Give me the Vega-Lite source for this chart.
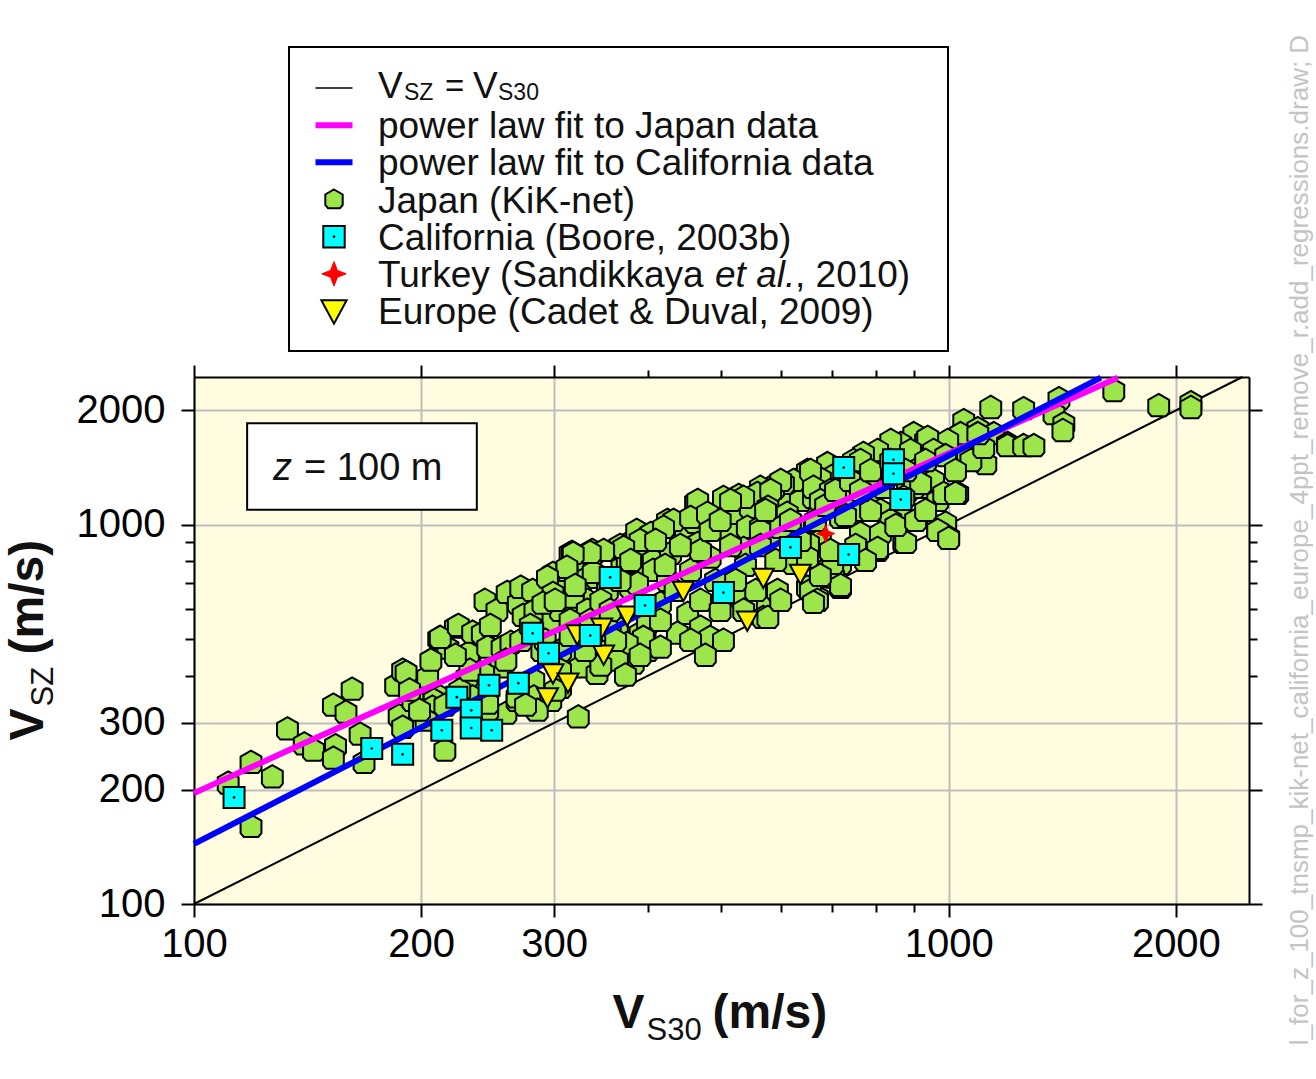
{
  "$schema": "https://vega.github.io/schema/vega-lite/v6.json",
  "width": 1055,
  "height": 527,
  "autosize": {"type": "none"},
  "padding": {"left": 194, "top": 377, "right": 67, "bottom": 175},
  "background": "white",
  "config": {
    "view": {"fill": "#FFFCE0", "stroke": null},
    "font": "Liberation Sans",
    "text": {"font": "Liberation Sans"}
  },
  "datasets": {
    "japan": [
      {"vs30":111,"vsz":208},{"vs30":119,"vsz":236},{"vs30":127,"vsz":216},{"vs30":119,"vsz":160},{"vs30":133,"vsz":289},
      {"vs30":140,"vsz":264},{"vs30":144,"vsz":254},{"vs30":153,"vsz":334},{"vs30":159,"vsz":320},{"vs30":162,"vsz":368},
      {"vs30":154,"vsz":261},{"vs30":153,"vsz":242},{"vs30":166,"vsz":280},{"vs30":168,"vsz":236},{"vs30":185,"vsz":377},
      {"vs30":189,"vsz":413},{"vs30":187,"vsz":313},{"vs30":189,"vsz":292},{"vs30":199,"vsz":384},{"vs30":204,"vsz":396},
      {"vs30":202,"vsz":338},{"vs30":211,"vsz":501},{"vs30":217,"vsz":472},{"vs30":222,"vsz":536},{"vs30":212,"vsz":351},
      {"vs30":215,"vsz":254},{"vs30":208,"vsz":344},{"vs30":232,"vsz":447},{"vs30":242,"vsz":486},{"vs30":255,"vsz":472},
      {"vs30":259,"vsz":318},{"vs30":240,"vsz":311},{"vs30":245,"vsz":324},{"vs30":268,"vsz":344},{"vs30":191,"vsz":408},
      {"vs30":195,"vsz":344},{"vs30":207,"vsz":330},{"vs30":212,"vsz":504},{"vs30":224,"vsz":542},{"vs30":231,"vsz":458},
      {"vs30":234,"vsz":520},{"vs30":241,"vsz":517},{"vs30":243,"vsz":631},{"vs30":245,"vsz":475},{"vs30":252,"vsz":594},
      {"vs30":256,"vsz":475},{"vs30":260,"vsz":662},{"vs30":269,"vsz":620},{"vs30":271,"vsz":683},{"vs30":273,"vsz":576},
      {"vs30":281,"vsz":670},{"vs30":283,"vsz":594},{"vs30":294,"vsz":620},{"vs30":299,"vsz":559},{"vs30":289,"vsz":466},
      {"vs30":263,"vsz":489},{"vs30":255,"vsz":421},{"vs30":242,"vsz":406},{"vs30":230,"vsz":396},{"vs30":234,"vsz":351},
      {"vs30":245,"vsz":338},{"vs30":268,"vsz":351},{"vs30":282,"vsz":389},{"vs30":282,"vsz":351},{"vs30":299,"vsz":743},
      {"vs30":309,"vsz":704},{"vs30":315,"vsz":839},{"vs30":318,"vsz":771},{"vs30":327,"vsz":712},{"vs30":332,"vsz":631},
      {"vs30":338,"vsz":839},{"vs30":342,"vsz":725},{"vs30":353,"vsz":670},{"vs30":364,"vsz":870},{"vs30":369,"vsz":771},
      {"vs30":379,"vsz":683},{"vs30":382,"vsz":908},{"vs30":390,"vsz":947},{"vs30":396,"vsz":854},{"vs30":400,"vsz":757},
      {"vs30":386,"vsz":771},{"vs30":406,"vsz":804},{"vs30":306,"vsz":594},{"vs30":318,"vsz":631},{"vs30":325,"vsz":559},
      {"vs30":312,"vsz":447},{"vs30":325,"vsz":421},{"vs30":342,"vsz":405},{"vs30":353,"vsz":466},{"vs30":364,"vsz":536},
      {"vs30":375,"vsz":466},{"vs30":390,"vsz":517},{"vs30":396,"vsz":504},{"vs30":382,"vsz":431},{"vs30":399,"vsz":466},
      {"vs30":406,"vsz":594},{"vs30":323,"vsz":311},{"vs30":306,"vsz":372},{"vs30":297,"vsz":344},{"vs30":285,"vsz":324},
      {"vs30":317,"vsz":844},{"vs30":337,"vsz":854},{"vs30":312,"vsz":757},{"vs30":338,"vsz":748},{"vs30":367,"vsz":880},
      {"vs30":386,"vsz":964},{"vs30":375,"vsz":794},{"vs30":406,"vsz":757},{"vs30":387,"vsz":699},{"vs30":424,"vsz":1025},
      {"vs30":428,"vsz":839},{"vs30":448,"vsz":947},{"vs30":462,"vsz":1143},{"vs30":462,"vsz":1013},{"vs30":465,"vsz":891},
      {"vs30":483,"vsz":820},{"vs30":480,"vsz":1057},{"vs30":503,"vsz":1178},{"vs30":509,"vsz":964},{"vs30":519,"vsz":1070},
      {"vs30":527,"vsz":1192},{"vs30":546,"vsz":1110},{"vs30":541,"vsz":983},{"vs30":563,"vsz":1253},{"vs30":581,"vsz":1110},
      {"vs30":593,"vsz":1283},{"vs30":611,"vsz":1179},{"vs30":627,"vsz":1306},{"vs30":636,"vsz":1157},{"vs30":650,"vsz":1362},
      {"vs30":662,"vsz":1179},{"vs30":563,"vsz":983},{"vs30":586,"vsz":947},{"vs30":535,"vsz":865},{"vs30":424,"vsz":712},
      {"vs30":415,"vsz":620},{"vs30":451,"vsz":583},{"vs30":469,"vsz":536},{"vs30":437,"vsz":517},{"vs30":399,"vsz":549},
      {"vs30":394,"vsz":504},{"vs30":415,"vsz":475},{"vs30":375,"vsz":486},{"vs30":356,"vsz":526},{"vs30":335,"vsz":486},
      {"vs30":364,"vsz":439},{"vs30":483,"vsz":504},{"vs30":503,"vsz":495},{"vs30":530,"vsz":643},{"vs30":535,"vsz":594},
      {"vs30":575,"vsz":620},{"vs30":568,"vsz":569},{"vs30":593,"vsz":670},{"vs30":623,"vsz":790},{"vs30":656,"vsz":839},
      {"vs30":670,"vsz":643},{"vs30":650,"vsz":683},{"vs30":318,"vsz":643},{"vs30":332,"vsz":594},{"vs30":315,"vsz":559},
      {"vs30":899,"vsz":1736},{"vs30":932,"vsz":1664},{"vs30":961,"vsz":1634},{"vs30":864,"vsz":1634},{"vs30":838,"vsz":1664},
      {"vs30":805,"vsz":1566},{"vs30":771,"vsz":1538},{"vs30":748,"vsz":1474},{"vs30":691,"vsz":1447},{"vs30":704,"vsz":1346},
      {"vs30":650,"vsz":1387},{"vs30":676,"vsz":1321},{"vs30":623,"vsz":1306},{"vs30":604,"vsz":1283},{"vs30":586,"vsz":1244},
      {"vs30":558,"vsz":1207},{"vs30":535,"vsz":1179},{"vs30":514,"vsz":1157},{"vs30":465,"vsz":1157},{"vs30":432,"vsz":1025},
      {"vs30":455,"vsz":1044},{"vs30":479,"vsz":1070},{"vs30":403,"vsz":947},{"vs30":419,"vsz":983},{"vs30":390,"vsz":908},
      {"vs30":371,"vsz":870},{"vs30":349,"vsz":854},{"vs30":335,"vsz":844},{"vs30":318,"vsz":839},{"vs30":312,"vsz":771},
      {"vs30":294,"vsz":726},{"vs30":299,"vsz":658},{"vs30":290,"vsz":620},{"vs30":726,"vsz":1207},{"vs30":764,"vsz":1157},
      {"vs30":795,"vsz":1110},{"vs30":812,"vsz":1089},{"vs30":882,"vsz":1229},{"vs30":910,"vsz":1306},{"vs30":938,"vsz":1253},
      {"vs30":967,"vsz":1157},{"vs30":864,"vsz":1070},{"vs30":838,"vsz":1025},{"vs30":764,"vsz":947},{"vs30":812,"vsz":947},
      {"vs30":805,"vsz":854},{"vs30":872,"vsz":897},{"vs30":719,"vsz":790},{"vs30":704,"vsz":726},{"vs30":650,"vsz":871},
      {"vs30":676,"vsz":908},{"vs30":656,"vsz":670},{"vs30":670,"vsz":631},{"vs30":719,"vsz":683},{"vs30":967,"vsz":983},
      {"vs30":623,"vsz":1007},{"vs30":563,"vsz":964},{"vs30":1137,"vsz":2033},{"vs30":1047,"vsz":1878},{"vs30":1093,"vsz":1789},
      {"vs30":1148,"vsz":1736},{"vs30":1197,"vsz":1634},{"vs30":1103,"vsz":1566},{"vs30":1059,"vsz":1502},{"vs30":1120,"vsz":1447},
      {"vs30":1037,"vsz":1736},{"vs30":997,"vsz":1664},{"vs30":938,"vsz":1696},{"vs30":955,"vsz":1566},{"vs30":890,"vsz":1566},
      {"vs30":918,"vsz":1414},{"vs30":955,"vsz":1306},{"vs30":899,"vsz":1253},{"vs30":985,"vsz":1207},{"vs30":1028,"vsz":1207},
      {"vs30":820,"vsz":1253},{"vs30":788,"vsz":1330},{"vs30":764,"vsz":1474},{"vs30":656,"vsz":1387},{"vs30":599,"vsz":1306},
      {"vs30":581,"vsz":1229},{"vs30":576,"vsz":1110},{"vs30":662,"vsz":1253},{"vs30":697,"vsz":1229},{"vs30":726,"vsz":1157},
      {"vs30":676,"vsz":1157},{"vs30":611,"vsz":1070},{"vs30":599,"vsz":983},{"vs30":764,"vsz":1089},{"vs30":788,"vsz":1089},
      {"vs30":719,"vsz":1044},{"vs30":805,"vsz":865},{"vs30":991,"vsz":1007},{"vs30":1000,"vsz":925},{"vs30":967,"vsz":964},
      {"vs30":652,"vsz":891},{"vs30":650,"vsz":820},{"vs30":702,"vsz":790},{"vs30":719,"vsz":691},{"vs30":662,"vsz":623},
      {"vs30":576,"vsz":569},{"vs30":1257,"vsz":2020},{"vs30":1400,"vsz":2145},{"vs30":1379,"vsz":1959},{"vs30":1421,"vsz":1844},
      {"vs30":1417,"vsz":1768},{"vs30":1655,"vsz":2252},{"vs30":1898,"vsz":2057},{"vs30":2094,"vsz":2095},{"vs30":2094,"vsz":2033},
      {"vs30":1197,"vsz":1614},{"vs30":1257,"vsz":1614},{"vs30":1297,"vsz":1614},{"vs30":1070,"vsz":1474},{"vs30":1113,"vsz":1596},
      {"vs30":1093,"vsz":1736},{"vs30":1021,"vsz":1207},{"vs30":918,"vsz":1283},{"vs30":872,"vsz":1179},{"vs30":1000,"vsz":919},
      {"vs30":877,"vsz":897},
      {"vs30":247,"vsz":542},{"vs30":259,"vsz":439},{"vs30":271,"vsz":495},{"vs30":279,"vsz":542},{"vs30":292,"vsz":495},
      {"vs30":301,"vsz":631},{"vs30":275,"vsz":334},{"vs30":306,"vsz":466},{"vs30":306,"vsz":413},{"vs30":301,"vsz":366},
      {"vs30":320,"vsz":691},{"vs30":335,"vsz":559},{"vs30":346,"vsz":631},{"vs30":356,"vsz":594},{"vs30":367,"vsz":712},
      {"vs30":379,"vsz":804},{"vs30":362,"vsz":495},{"vs30":346,"vsz":426},{"vs30":373,"vsz":401},{"vs30":390,"vsz":452},
      {"vs30":330,"vsz":466},{"vs30":315,"vsz":510},{"vs30":409,"vsz":908},{"vs30":421,"vsz":780},{"vs30":434,"vsz":670},
      {"vs30":455,"vsz":757},{"vs30":469,"vsz":854},{"vs30":483,"vsz":964},{"vs30":441,"vsz":880},{"vs30":491,"vsz":712},
      {"vs30":469,"vsz":631},{"vs30":455,"vsz":495},{"vs30":498,"vsz":594},{"vs30":415,"vsz":559},{"vs30":476,"vsz":452},
      {"vs30":514,"vsz":880},{"vs30":538,"vsz":780},{"vs30":563,"vsz":880},{"vs30":590,"vsz":804},{"vs30":617,"vsz":1025},
      {"vs30":636,"vsz":908},{"vs30":555,"vsz":670},{"vs30":599,"vsz":631},{"vs30":522,"vsz":712},{"vs30":572,"vsz":1089},
      {"vs30":498,"vsz":1025},{"vs30":666,"vsz":1025},{"vs30":687,"vsz":1122},{"vs30":708,"vsz":1229},{"vs30":741,"vsz":1306},
      {"vs30":764,"vsz":1229},{"vs30":788,"vsz":1387},{"vs30":730,"vsz":1056},{"vs30":753,"vsz":880},{"vs30":697,"vsz":854},
      {"vs30":776,"vsz":804},{"vs30":676,"vsz":734},{"vs30":838,"vsz":1474},{"vs30":877,"vsz":1387},{"vs30":932,"vsz":1474},
      {"vs30":991,"vsz":1519},{"vs30":1021,"vsz":1387},{"vs30":851,"vsz":994},{"vs30":904,"vsz":1025},{"vs30":932,"vsz":1089},
      {"vs30":193,"vsz":366},{"vs30":203,"vsz":305},{"vs30":215,"vsz":334},{"vs30":225,"vsz":366},{"vs30":232,"vsz":413},
      {"vs30":222,"vsz":452},{"vs30":206,"vsz":439},{"vs30":199,"vsz":324}
    ],
    "california": [
      {"vs30":113,"vsz":191},{"vs30":172,"vsz":257},{"vs30":189,"vsz":248},{"vs30":213,"vsz":287},{"vs30":223,"vsz":351},
      {"vs30":233,"vsz":324},{"vs30":233,"vsz":291},{"vs30":248,"vsz":287},{"vs30":246,"vsz":377},{"vs30":269,"vsz":382},
      {"vs30":281,"vsz":517},{"vs30":295,"vsz":458},{"vs30":356,"vsz":726},{"vs30":396,"vsz":612},{"vs30":503,"vsz":662},
      {"vs30":617,"vsz":871},{"vs30":726,"vsz":1414},{"vs30":845,"vsz":1483},{"vs30":845,"vsz":1362},{"vs30":864,"vsz":1164},
      {"vs30":737,"vsz":834},{"vs30":335,"vsz":510}
    ],
    "europe": [
      {"vs30":322,"vsz":514},{"vs30":347,"vsz":536},{"vs30":349,"vsz":455},{"vs30":375,"vsz":576},{"vs30":299,"vsz":406},
      {"vs30":313,"vsz":384},{"vs30":294,"vsz":351},{"vs30":445,"vsz":670},{"vs30":568,"vsz":725},{"vs30":636,"vsz":743},
      {"vs30":541,"vsz":559}
    ],
    "turkey": [{"vs30":687,"vsz":947}],
    "japanFit": [
      {"vs30":100,"vsz":196},{"vs30":138,"vsz":262},{"vs30":225,"vsz":405},{"vs30":390,"vsz":660},
      {"vs30":676,"vsz":1086},{"vs30":1172,"vsz":1776},{"vs30":1675,"vsz":2440}
    ],
    "calFit": [
      {"vs30":100,"vsz":144},{"vs30":188,"vsz":274},{"vs30":415,"vsz":618},{"vs30":864,"vsz":1311},{"vs30":1591,"vsz":2440}
    ],
    "oneToOne": [{"vs30":100,"vsz":100},{"vs30":2450,"vsz":2450}],
    "frame": [{"vs30":100,"vsz":100}],
    "annot": [
      {"id":"z1","text":"z"},{"id":"z2","text":"= 100 m"},
      {"id":"xt1","text":"V"},{"id":"xt2","text":"S30"},{"id":"xt3","text":"(m/s)"},
      {"id":"yt1","text":"V"},{"id":"yt2","text":"SZ"},{"id":"yt3","text":"(m/s)"},
      {"id":"wm","text":"l_for_z_100_tnsmp_kik-net_california_europe_4ppt_remove_r.add_regressions.draw; D"}
    ],
    "legend": [
      {"key":"k1"},
      {"key":"k2","label":"power law fit to Japan data"},
      {"key":"k3","label":"power law fit to California data"},
      {"key":"k4","label":"Japan (KiK-net)"},
      {"key":"k5","label":"California (Boore, 2003b)"},
      {"key":"k6"},
      {"key":"k7","label":"Europe (Cadet & Duval, 2009)"}
    ],
    "legendPieces": [
      {"key":"k1","id":"p1","text":"V"},{"key":"k1","id":"p2","text":"SZ"},{"key":"k1","id":"p3","text":"="},
      {"key":"k1","id":"p4","text":"V"},{"key":"k1","id":"p5","text":"S30"},
      {"key":"k6","id":"t1","text":"Turkey (Sandikkaya"},{"key":"k6","id":"t2","text":"et al."},{"key":"k6","id":"t3","text":", 2010)"}
    ]
  },
  "layer": [
    {
      "layer": [
        {
          "data": {"name": "oneToOne"},
          "mark": {"type": "line", "stroke": "black", "strokeWidth": 2},
          "encoding": {
            "x": {"field": "vs30", "type": "quantitative",
              "scale": {"type": "log", "domain": [100, 2500], "nice": false},
              "axis": {
                "orient": "bottom", "title": null,
                "values": [100,200,300,400,500,600,700,800,900,1000,2000],
                "labelExpr": "(datum.value==100||datum.value==200||datum.value==300||datum.value==1000||datum.value==2000) ? ''+datum.value : ''",
                "grid": true, "gridColor": "#BEBEBE", "gridWidth": 2,
                "gridOpacity": {"condition": {"test": "datum.value>=400 && datum.value<=900", "value": 0}, "value": 1},
                "tickSize": {"condition": {"test": "datum.value>=400 && datum.value<=900", "value": 8}, "value": 13},
                "tickWidth": 2, "tickColor": "black", "domainColor": "black", "domainWidth": 2,
                "labelFontSize": 40, "labelColor": "black", "labelPadding": 7,
                "labelFlush": false, "labelOverlap": false, "labelBound": false
              }},
            "y": {"field": "vsz", "type": "quantitative",
              "scale": {"type": "log", "domain": [100, 2450], "nice": false},
              "axis": {
                "orient": "left", "title": null,
                "values": [100,200,300,400,500,600,700,800,900,1000,2000],
                "labelExpr": "(datum.value==100||datum.value==200||datum.value==300||datum.value==1000||datum.value==2000) ? ''+datum.value : ''",
                "grid": true, "gridColor": "#BEBEBE", "gridWidth": 2,
                "gridOpacity": {"condition": {"test": "datum.value>=400 && datum.value<=900", "value": 0}, "value": 1},
                "tickSize": {"condition": {"test": "datum.value>=400 && datum.value<=900", "value": 9}, "value": 13},
                "tickWidth": 2, "tickColor": "black", "domainColor": "black", "domainWidth": 2,
                "labelFontSize": 40, "labelColor": "black", "labelPadding": 16,
                "labelFlush": false, "labelOverlap": false, "labelBound": false
              }}
          }
        },
        {
          "data": {"name": "japan"},
          "mark": {"type": "point", "shape": "M0,-1L0.87,-0.5L0.87,0.55L0.6,0.87L-0.6,0.87L-0.87,0.55L-0.87,-0.5Z",
            "size": 576, "filled": true, "fill": "#9CE64B", "stroke": "black", "strokeWidth": 2, "opacity": 1},
          "encoding": {"x": {"field": "vs30", "type": "quantitative"}, "y": {"field": "vsz", "type": "quantitative"}}
        },
        {
          "data": {"name": "japanFit"},
          "mark": {"type": "line", "stroke": "#FF00FF", "strokeWidth": 6},
          "encoding": {"x": {"field": "vs30", "type": "quantitative"}, "y": {"field": "vsz", "type": "quantitative"}}
        },
        {
          "data": {"name": "calFit"},
          "mark": {"type": "line", "stroke": "#0000FF", "strokeWidth": 6},
          "encoding": {"x": {"field": "vs30", "type": "quantitative"}, "y": {"field": "vsz", "type": "quantitative"}}
        },
        {
          "data": {"name": "europe"},
          "mark": {"type": "point", "shape": "M-1,-0.85L1,-0.85L0,1Z", "size": 441,
            "filled": true, "fill": "#FFEE00", "stroke": "black", "strokeWidth": 2, "opacity": 1},
          "encoding": {"x": {"field": "vs30", "type": "quantitative"}, "y": {"field": "vsz", "type": "quantitative"}}
        },
        {
          "data": {"name": "california"},
          "mark": {"type": "point", "shape": "square", "size": 441,
            "filled": true, "fill": "#00FFFF", "stroke": "black", "strokeWidth": 2, "opacity": 1},
          "encoding": {"x": {"field": "vs30", "type": "quantitative"}, "y": {"field": "vsz", "type": "quantitative"}}
        },
        {
          "data": {"name": "california"},
          "mark": {"type": "point", "shape": "circle", "size": 7, "filled": true, "fill": "black", "opacity": 1},
          "encoding": {"x": {"field": "vs30", "type": "quantitative"}, "y": {"field": "vsz", "type": "quantitative"}}
        },
        {
          "data": {"name": "turkey"},
          "mark": {"type": "point", "shape": "M0,-1L0.28,-0.28L1,0L0.28,0.28L0,1L-0.28,0.28L-1,0L-0.28,-0.28Z", "size": 324,
            "filled": true, "fill": "#FF0000", "stroke": "#FF0000", "strokeWidth": 1, "opacity": 1},
          "encoding": {"x": {"field": "vs30", "type": "quantitative"}, "y": {"field": "vsz", "type": "quantitative"}}
        },
        {
          "data": {"name": "annot"},
          "transform": [{"filter": "datum.id=='z1'"}],
          "mark": {"type": "rect", "fill": "white", "stroke": "black", "strokeWidth": 2},
          "encoding": {"x": {"datum": 117.6}, "x2": {"datum": 237}, "y": {"datum": 1850}, "y2": {"datum": 1095}}
        },
        {
          "data": {"name": "annot"},
          "transform": [{"filter": "datum.id=='z1'"}],
          "mark": {"type": "text", "align": "left", "baseline": "alphabetic", "fontSize": 38, "fontStyle": "italic", "fill": "#111"},
          "encoding": {"x": {"datum": 127.3}, "y": {"datum": 1311}, "text": {"field": "text"}}
        },
        {
          "data": {"name": "annot"},
          "transform": [{"filter": "datum.id=='z2'"}],
          "mark": {"type": "text", "align": "left", "baseline": "alphabetic", "fontSize": 38, "dx": 31, "fill": "#111"},
          "encoding": {"x": {"datum": 127.3}, "y": {"datum": 1311}, "text": {"field": "text"}}
        },
        {
          "data": {"name": "annot"},
          "transform": [{"filter": "datum.id=='xt1'"}],
          "mark": {"type": "text", "align": "left", "baseline": "alphabetic", "fontSize": 48, "fontWeight": "bold", "dx": -109, "dy": 124, "fill": "#111"},
          "encoding": {"x": {"datum": 500}, "y": {"datum": 100}, "text": {"field": "text"}}
        },
        {
          "data": {"name": "annot"},
          "transform": [{"filter": "datum.id=='xt2'"}],
          "mark": {"type": "text", "align": "left", "baseline": "alphabetic", "fontSize": 31, "dx": -75, "dy": 136, "fill": "#111"},
          "encoding": {"x": {"datum": 500}, "y": {"datum": 100}, "text": {"field": "text"}}
        },
        {
          "data": {"name": "annot"},
          "transform": [{"filter": "datum.id=='xt3'"}],
          "mark": {"type": "text", "align": "left", "baseline": "alphabetic", "fontSize": 48, "fontWeight": "bold", "dx": -9, "dy": 124, "fill": "#111"},
          "encoding": {"x": {"datum": 500}, "y": {"datum": 100}, "text": {"field": "text"}}
        },
        {
          "data": {"name": "annot"},
          "transform": [{"filter": "datum.id=='yt1'"}],
          "mark": {"type": "text", "align": "left", "baseline": "alphabetic", "angle": 270, "fontSize": 48, "fontWeight": "bold", "dx": -100, "dy": -151, "fill": "#111"},
          "encoding": {"x": {"datum": 100}, "y": {"datum": 495}, "text": {"field": "text"}}
        },
        {
          "data": {"name": "annot"},
          "transform": [{"filter": "datum.id=='yt2'"}],
          "mark": {"type": "text", "align": "left", "baseline": "alphabetic", "angle": 270, "fontSize": 31, "dx": -66, "dy": -141, "fill": "#111"},
          "encoding": {"x": {"datum": 100}, "y": {"datum": 495}, "text": {"field": "text"}}
        },
        {
          "data": {"name": "annot"},
          "transform": [{"filter": "datum.id=='yt3'"}],
          "mark": {"type": "text", "align": "left", "baseline": "alphabetic", "angle": 270, "fontSize": 48, "fontWeight": "bold", "dx": -14, "dy": -151, "fill": "#111"},
          "encoding": {"x": {"datum": 100}, "y": {"datum": 495}, "text": {"field": "text"}}
        },
        {
          "data": {"name": "annot"},
          "transform": [{"filter": "datum.id=='wm'"}],
          "mark": {"type": "text", "align": "center", "baseline": "middle", "angle": 270, "fontSize": 26, "dy": 51, "fill": "#C4C4C4"},
          "encoding": {"x": {"datum": 2500}, "y": {"datum": 911}, "text": {"field": "text"}}
        }
      ]
    },
    {
      "data": {"name": "frame"},
      "mark": {"type": "point", "opacity": 0},
      "encoding": {
        "x": {"field": "vs30", "type": "quantitative",
          "scale": {"type": "log", "domain": [100, 2500], "nice": false},
          "axis": {"orient": "top", "title": null, "labels": false, "grid": false,
            "values": [100,200,300,400,500,600,700,800,900,1000,2000],
            "tickSize": {"condition": {"test": "datum.value>=400 && datum.value<=900", "value": 7}, "value": 12},
            "tickWidth": 2, "tickColor": "black", "domainColor": "black", "domainWidth": 2}},
        "y": {"field": "vsz", "type": "quantitative",
          "scale": {"type": "log", "domain": [100, 2450], "nice": false},
          "axis": {"orient": "right", "title": null, "labels": false, "grid": false,
            "values": [100,200,300,400,500,600,700,800,900,1000,2000],
            "tickSize": {"condition": {"test": "datum.value>=400 && datum.value<=900", "value": 8}, "value": 13},
            "tickWidth": 2, "tickColor": "black", "domainColor": "black", "domainWidth": 2}}
      }
    },
    {
      "data": {"name": "legend"},
      "encoding": {
        "y": {"field": "key", "type": "ordinal", "scale": {"type": "point", "range": [-289, -66], "padding": 0}, "axis": null},
        "x": {"datum": 45, "type": "quantitative", "scale": {"domain": [0, 659], "range": [95, 754]}, "axis": null}
      },
      "layer": [
        {
          "transform": [{"filter": "datum.key=='k1'"}],
          "mark": {"type": "rect", "fill": "white", "stroke": "black", "strokeWidth": 2, "yOffset": -41, "y2Offset": 40},
          "encoding": {"x": {"datum": 0}, "x2": {"datum": 659}, "y2": {"datum": "k7"}}
        },
        {
          "transform": [{"filter": "datum.key=='k1'"}],
          "mark": {"type": "point", "shape": "M-1,0L1,0", "size": 1369, "filled": false, "stroke": "black", "strokeWidth": 1.5, "opacity": 1}
        },
        {
          "transform": [{"filter": "datum.key=='k2'"}],
          "mark": {"type": "point", "shape": "M-1,0L1,0", "size": 1369, "filled": false, "stroke": "#FF00FF", "strokeWidth": 6, "opacity": 1}
        },
        {
          "transform": [{"filter": "datum.key=='k3'"}],
          "mark": {"type": "point", "shape": "M-1,0L1,0", "size": 1369, "filled": false, "stroke": "#0000FF", "strokeWidth": 6, "opacity": 1}
        },
        {
          "transform": [{"filter": "datum.key=='k4'"}],
          "mark": {"type": "point", "shape": "M0,-1L0.87,-0.5L0.87,0.55L0.6,0.87L-0.6,0.87L-0.87,0.55L-0.87,-0.5Z",
            "size": 400, "filled": true, "fill": "#9CE64B", "stroke": "black", "strokeWidth": 2, "opacity": 1}
        },
        {
          "transform": [{"filter": "datum.key=='k5'"}],
          "mark": {"type": "point", "shape": "square", "size": 460, "filled": true, "fill": "#00FFFF", "stroke": "black", "strokeWidth": 2, "opacity": 1}
        },
        {
          "transform": [{"filter": "datum.key=='k5'"}],
          "mark": {"type": "point", "shape": "circle", "size": 7, "filled": true, "fill": "black", "opacity": 1}
        },
        {
          "transform": [{"filter": "datum.key=='k6'"}],
          "mark": {"type": "point", "shape": "M0,-1L0.28,-0.28L1,0L0.28,0.28L0,1L-0.28,0.28L-1,0L-0.28,-0.28Z", "size": 600,
            "filled": true, "fill": "#FF0000", "stroke": "#FF0000", "strokeWidth": 1, "opacity": 1}
        },
        {
          "transform": [{"filter": "datum.key=='k7'"}],
          "mark": {"type": "point", "shape": "M-1,-0.85L1,-0.85L0,1Z", "size": 640,
            "filled": true, "fill": "#FFFF00", "stroke": "black", "strokeWidth": 2, "opacity": 1}
        },
        {
          "transform": [{"filter": "isValid(datum.label)"}],
          "mark": {"type": "text", "align": "left", "baseline": "alphabetic", "dy": 13, "fontSize": 37, "fill": "#111"},
          "encoding": {"x": {"datum": 89}, "text": {"field": "label"}}
        },
        {
          "data": {"name": "legendPieces"},
          "transform": [{"filter": "datum.id=='p1'"}],
          "mark": {"type": "text", "align": "left", "baseline": "alphabetic", "dy": 10, "fontSize": 37, "fill": "#111"},
          "encoding": {"x": {"datum": 89}, "text": {"field": "text"}}
        },
        {
          "data": {"name": "legendPieces"},
          "transform": [{"filter": "datum.id=='p2'"}],
          "mark": {"type": "text", "align": "left", "baseline": "alphabetic", "dy": 12, "fontSize": 23, "fill": "#111"},
          "encoding": {"x": {"datum": 115}, "text": {"field": "text"}}
        },
        {
          "data": {"name": "legendPieces"},
          "transform": [{"filter": "datum.id=='p3'"}],
          "mark": {"type": "text", "align": "left", "baseline": "alphabetic", "dy": 9, "fontSize": 33, "fill": "#111"},
          "encoding": {"x": {"datum": 156}, "text": {"field": "text"}}
        },
        {
          "data": {"name": "legendPieces"},
          "transform": [{"filter": "datum.id=='p4'"}],
          "mark": {"type": "text", "align": "left", "baseline": "alphabetic", "dy": 10, "fontSize": 37, "fill": "#111"},
          "encoding": {"x": {"datum": 184}, "text": {"field": "text"}}
        },
        {
          "data": {"name": "legendPieces"},
          "transform": [{"filter": "datum.id=='p5'"}],
          "mark": {"type": "text", "align": "left", "baseline": "alphabetic", "dy": 12, "fontSize": 23, "fill": "#111"},
          "encoding": {"x": {"datum": 209}, "text": {"field": "text"}}
        },
        {
          "data": {"name": "legendPieces"},
          "transform": [{"filter": "datum.id=='t1'"}],
          "mark": {"type": "text", "align": "left", "baseline": "alphabetic", "dy": 13, "fontSize": 37, "fill": "#111"},
          "encoding": {"x": {"datum": 89}, "text": {"field": "text"}}
        },
        {
          "data": {"name": "legendPieces"},
          "transform": [{"filter": "datum.id=='t2'"}],
          "mark": {"type": "text", "align": "left", "baseline": "alphabetic", "dy": 13, "fontSize": 37, "fontStyle": "italic", "fill": "#111"},
          "encoding": {"x": {"datum": 426}, "text": {"field": "text"}}
        },
        {
          "data": {"name": "legendPieces"},
          "transform": [{"filter": "datum.id=='t3'"}],
          "mark": {"type": "text", "align": "left", "baseline": "alphabetic", "dy": 13, "fontSize": 37, "fill": "#111"},
          "encoding": {"x": {"datum": 506}, "text": {"field": "text"}}
        }
      ]
    }
  ],
  "resolve": {"scale": {"x": "independent", "y": "independent"}, "axis": {"x": "independent", "y": "independent"}}
}
